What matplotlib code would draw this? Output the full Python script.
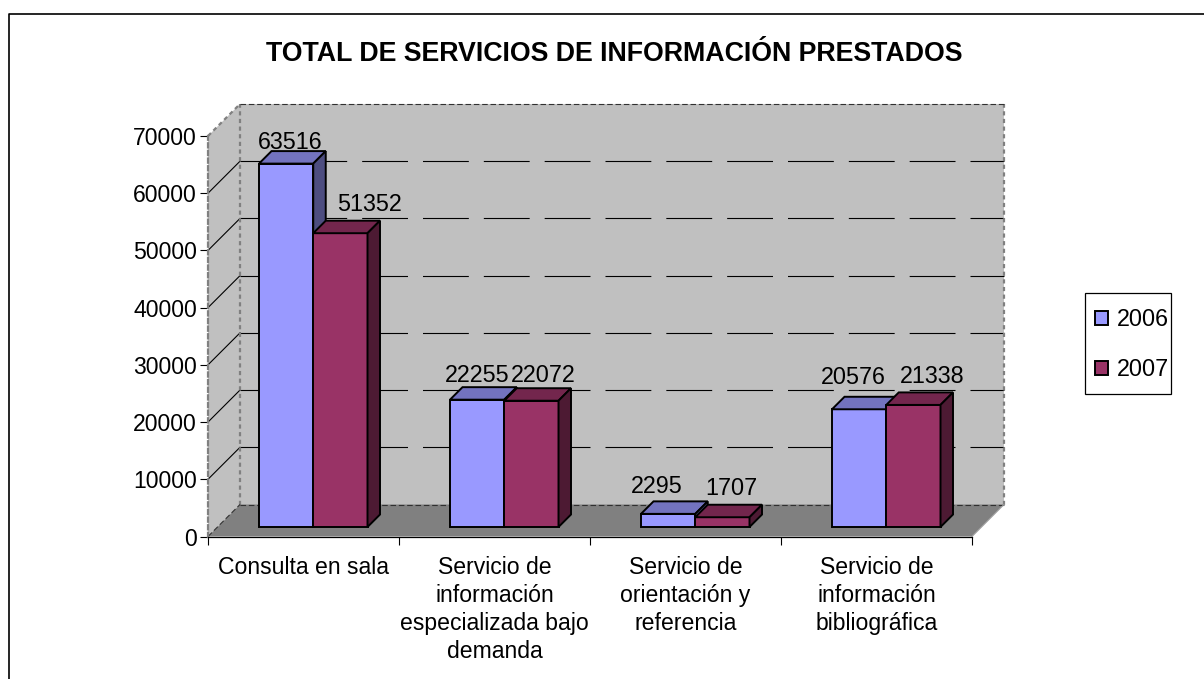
import matplotlib.pyplot as plt
from matplotlib.lines import Line2D
from matplotlib.patches import Patch, Polygon, Rectangle

plt.rcParams['font.family'] = ['Liberation Sans', 'DejaVu Sans']
plt.rcParams['lines.scale_dashes'] = False

categories = ["Consulta en sala",
              "Servicio de\ninformación\nespecializada bajo\ndemanda",
              "Servicio de\norientación y\nreferencia",
              "Servicio de\ninformación\nbibliográfica"]
series_names = ["2006", "2007"]
values_2006 = [63516, 22255, 2295, 20576]
values_2007 = [51352, 22072, 1707, 21338]
y_ticks = [0, 10000, 20000, 30000, 40000, 50000, 60000, 70000]

W, H = 1204, 679
# plot box in pixels
left, right, y0, y70 = 208, 972, 536.5, 136
cat_px = (right - left) / len(categories)
val_per_px = y_ticks[-1] / (y0 - y70)

wall_depth = 32
bar_inset = 9.5
bar_depth = 12.5
bar_w = 54.25 / cat_px
gap = 41.5 / cat_px

# offsets (px) of the value labels from the top of each bar
label_off_2006 = [(4, 15), (0, 18), (-11, 21), (-6, 25)]
label_off_2007 = [(29, 22), (12, 19), (9, 22), (19, 22)]

colors_2006 = ("#9999FF", "#7373BF", "#4D4D80")
colors_2007 = ("#993366", "#73264D", "#4D1A33")

FS = 16.6


def shift(x, v, d):
    # move a point back into the chart depth by d pixels
    return x + d / cat_px, v + d * val_per_px


def bar3d(ax, x, value, colors, z):
    x0, v0 = shift(x, 0, bar_inset)
    x1 = x0 + bar_w
    v1 = v0 + value
    bx, bv = bar_depth / cat_px, bar_depth * val_per_px
    faces = [
        ([(x0, v0), (x1, v0), (x1, v1), (x0, v1)], colors[0]),
        ([(x0, v1), (x1, v1), (x1 + bx, v1 + bv), (x0 + bx, v1 + bv)], colors[1]),
        ([(x1, v0), (x1 + bx, v0 + bv), (x1 + bx, v1 + bv), (x1, v1)], colors[2]),
    ]
    for pts, c in faces:
        ax.add_patch(Polygon(pts, closed=True, facecolor=c, edgecolor="black",
                             linewidth=1.4, joinstyle="miter", clip_on=False, zorder=z))
    return (x0 + x1) / 2, v1


fig = plt.figure(figsize=(W / 100, H / 100), dpi=100)
ax = fig.add_axes([left / W, 1 - y0 / H, (right - left) / W, (y0 - y70) / H])
ax.set_xlim(0, len(categories))
ax.set_ylim(0, y_ticks[-1])
ax.patch.set_visible(False)

n = len(categories)
top = y_ticks[-1]
bx_d, bv_d = shift(0, 0, wall_depth)
bx_r, bv_t = shift(n, top, wall_depth)

# walls and floor
ax.add_patch(Polygon([(bx_d, bv_d), (bx_r, bv_d), (bx_r, bv_t), (bx_d, bv_t)],
                     facecolor="#C0C0C0", edgecolor="none", clip_on=False, zorder=1))
ax.add_patch(Polygon([(0, 0), (bx_d, bv_d), (bx_d, bv_t), (0, top)],
                     facecolor="#C0C0C0", edgecolor="none", clip_on=False, zorder=1))
ax.add_patch(Polygon([(0, 0), (n, 0), (bx_r, bv_d), (bx_d, bv_d)],
                     facecolor="#808080", edgecolor="none", clip_on=False, zorder=1))

# gridlines, dashed on the back wall and solid on the side wall
for v in y_ticks[1:-1]:
    ax.plot([bx_d, bx_r], [v + bv_d, v + bv_d], color="black", lw=0.8,
            ls=(0, (33, 10.8)), clip_on=False, zorder=2)
    ax.plot([0, bx_d], [v, v + bv_d], color="black", lw=0.8, clip_on=False, zorder=2)

# wall edges
edge = dict(color="#808080", lw=1.6, ls=(0, (3, 2.5)), clip_on=False, zorder=2)
ax.plot([bx_d, bx_d], [bv_d, bv_t], **edge)
ax.plot([bx_r, bx_r], [bv_d, bv_t], **edge)
ax.plot([0, bx_d], [top, bv_t], **edge)
thin = dict(color="#303030", lw=0.8, ls=(0, (4, 2)), clip_on=False, zorder=2)
ax.plot([bx_d, bx_r], [bv_t, bv_t], **thin)
ax.plot([bx_d, bx_r], [bv_d, bv_d], **thin)
ax.plot([0, bx_d], [0, bv_d], **thin)
ax.plot([n, bx_r], [0, bv_d], color="#A0A0A0", lw=0.8, clip_on=False, zorder=2)

# bars
for i in range(n):
    x = i + gap
    cx, tv = bar3d(ax, x, values_2006[i], colors_2006, 3 + i * 2)
    ox, oy = label_off_2006[i]
    ax.annotate(str(values_2006[i]), (cx, tv), xytext=(ox * 0.72, oy * 0.72),
                textcoords="offset points", ha="center", va="baseline",
                fontsize=16.8, color="black", zorder=20, annotation_clip=False)
    cx, tv = bar3d(ax, x + bar_w, values_2007[i], colors_2007, 4 + i * 2)
    ox, oy = label_off_2007[i]
    ax.annotate(str(values_2007[i]), (cx, tv), xytext=(ox * 0.72, oy * 0.72),
                textcoords="offset points", ha="center", va="baseline",
                fontsize=16.8, color="black", zorder=20, annotation_clip=False)

# axes
for s in ("top", "right"):
    ax.spines[s].set_visible(False)
ax.spines["left"].set(color="#808080", linewidth=1.6, linestyle=(0, (3, 2.5)))
ax.spines["bottom"].set(color="black", linewidth=0.9)
ax.spines["left"].set_zorder(2.5)
ax.spines["bottom"].set_zorder(2.5)
ax.set_yticks(y_ticks)
ax.set_xticks(range(n + 1))
ax.set_xticklabels([])
ax.set_xticks([i + 0.5 for i in range(n)], minor=True)
ax.set_xticklabels(categories, minor=True, fontsize=FS, linespacing=1.28, va="top")
ax.tick_params(axis="x", which="major", length=6, width=0.8, color="black")
ax.tick_params(axis="x", which="minor", length=0, pad=14)
ax.tick_params(axis="y", length=6, width=0.8, color="black", labelsize=FS, pad=2)

# legend, frame drawn apart because its padding is uneven
handles = [Patch(facecolor=colors_2006[0], edgecolor="black", linewidth=1.4, label=series_names[0]),
           Patch(facecolor=colors_2007[0], edgecolor="black", linewidth=1.4, label=series_names[1])]
fig.legend(handles=handles, loc="center left", bbox_to_anchor=(1095 / W, 1 - 344.5 / H),
           frameon=False, fontsize=16.8, handlelength=0.56, handleheight=0.56,
           handletextpad=0.39, labelspacing=1.16, borderpad=0, borderaxespad=0)
fig.add_artist(Rectangle((1085 / W, 1 - 394 / H), 86 / W, 101 / H, transform=fig.transFigure,
                         facecolor="none", edgecolor="black", linewidth=0.9))

# title and outer frame
fig.text(614.5 / W, 1 - 54 / H, "TOTAL DE SERVICIOS DE INFORMACIÓN PRESTADOS",
         ha="center", va="center", fontsize=19.3, fontweight="bold")
fig.add_artist(Line2D([8.5 / W, 8.5 / W, 1], [0, 1 - 13.5 / H, 1 - 13.5 / H],
                      color="black", lw=1.2))

fig.savefig("out.png", dpi=100)
